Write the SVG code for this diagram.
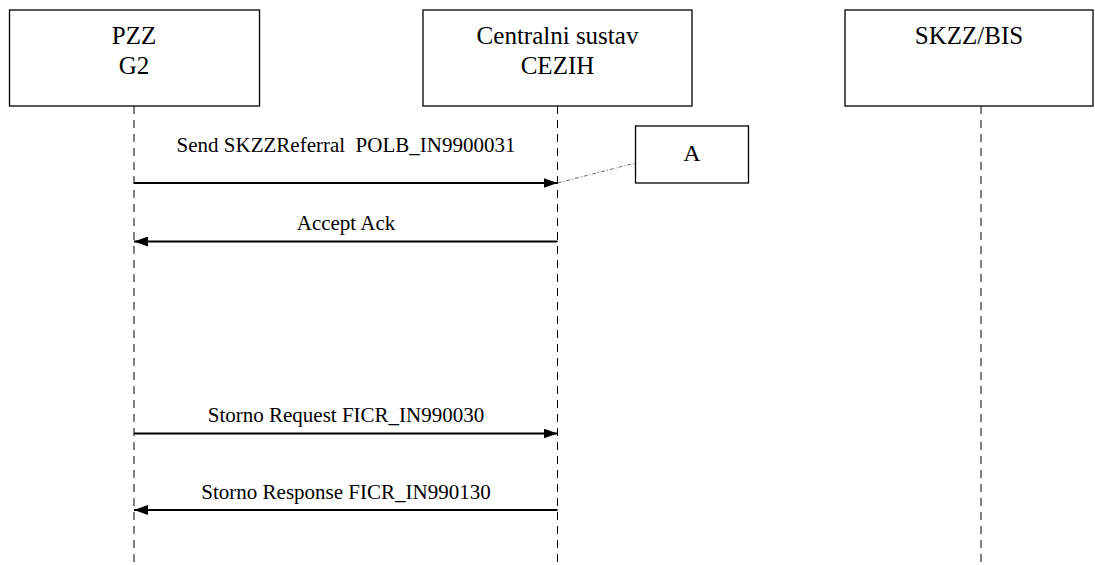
<svg xmlns="http://www.w3.org/2000/svg" width="1095" height="565" viewBox="0 0 1095 565">
<style>
.box{fill:#fff;stroke:#000;stroke-width:1.3}
.hdr{font-family:"Liberation Serif","Times New Roman",serif;font-size:25px;fill:#000;text-anchor:middle}
.lbl{font-family:"Liberation Serif","Times New Roman",serif;font-size:21px;fill:#000;text-anchor:middle}
.life{stroke:#000;stroke-width:1;stroke-dasharray:8 6;fill:none}
.msg{stroke:#000;stroke-width:1.8;fill:none}
.note{stroke:#444;stroke-width:0.8;stroke-dasharray:4 2 1 2;fill:none}
</style>
<defs>
<marker id="ah" markerWidth="14" markerHeight="10" refX="14" refY="5" orient="auto" markerUnits="userSpaceOnUse">
<path d="M0,0 L14,5 L0,10 Z" fill="#000"/>
</marker>
</defs>
<rect width="1095" height="565" fill="#fff"/>
<g id="lifelines">
<line class="life" x1="134" y1="106" x2="134" y2="565"/>
<line class="life" x1="557.5" y1="106" x2="557.5" y2="565"/>
<line class="life" x1="981" y1="106" x2="981" y2="565"/>
</g>
<g id="node-pzz">
<rect class="box" x="9.5" y="10" width="250" height="96"/>
<text class="hdr" x="134" y="43.5">PZZ</text>
<text class="hdr" x="134" y="73.5">G2</text>
</g>
<g id="node-cezih">
<rect class="box" x="423" y="10" width="269" height="96"/>
<text class="hdr" x="557.5" y="43.5">Centralni sustav</text>
<text class="hdr" x="557.5" y="73.5">CEZIH</text>
</g>
<g id="node-skzz">
<rect class="box" x="845" y="10" width="248" height="96"/>
<text class="hdr" x="969" y="43.5">SKZZ/BIS</text>
</g>
<g id="node-a">
<rect class="box" x="635.5" y="126" width="113" height="57"/>
<text class="hdr" x="692" y="161" style="font-size:24px">A</text>
</g>
<g id="connectors">
<line class="msg" x1="134" y1="183" x2="557.5" y2="183" marker-end="url(#ah)"/>
<line class="msg" x1="557.5" y1="241.5" x2="134" y2="241.5" marker-end="url(#ah)"/>
<line class="msg" x1="134" y1="433.5" x2="557.5" y2="433.5" marker-end="url(#ah)"/>
<line class="msg" x1="557.5" y1="510" x2="134" y2="510" marker-end="url(#ah)"/>
<line class="note" x1="557.5" y1="183" x2="635.5" y2="163"/>
</g>
<g id="labels">
<text class="lbl" x="346" y="152" xml:space="preserve">Send SKZZReferral  POLB_IN9900031</text>
<text class="lbl" x="346" y="230">Accept Ack</text>
<text class="lbl" x="346" y="422">Storno Request FICR_IN990030</text>
<text class="lbl" x="346" y="499">Storno Response FICR_IN990130</text>
</g>
</svg>
